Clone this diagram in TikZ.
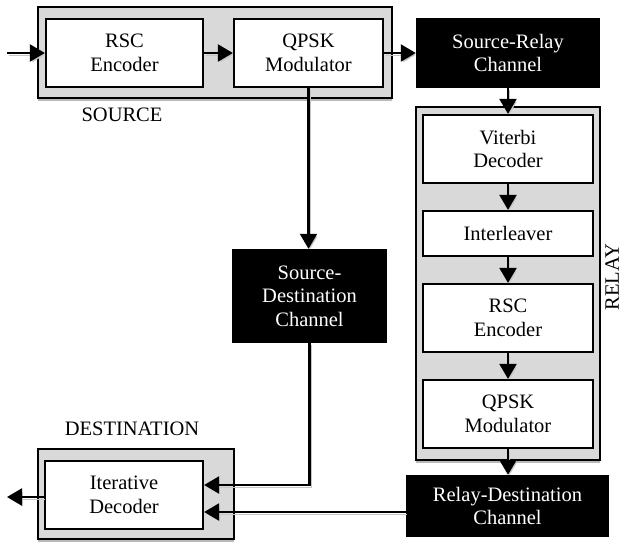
\documentclass[tikz,border=0pt]{standalone}
\usepackage{fontspec}
\setmainfont{Liberation Serif}
\usetikzlibrary{arrows.meta,shadows}
\begin{document}
\begin{tikzpicture}[x=1pt,y=-1pt,
  font=\fontsize{20.5pt}{23.5pt}\selectfont,
  group/.style={draw, line width=2.4pt, fill=black!15, inner sep=0pt,
    drop shadow={shadow xshift=0pt, shadow yshift=-3pt, fill=gray!55, opacity=1}},
  blk/.style={draw, line width=2.2pt, fill=white, align=center, inner sep=0pt},
  chan/.style={fill=black, text=white, align=center, inner sep=0pt},
  arr/.style={line width=2.2pt, -{Triangle[length=15pt,width=17pt]},
    preaction={draw=gray!45, transform canvas={shift={(1.5pt,-2pt)}}}},
  lbl/.style={inner sep=0pt}]
\useasboundingbox (0,0) rectangle (623,546);

% containers
\node[group, minimum width=354pt, minimum height=91pt] (src) at (215,52.5) {};
\node[group, minimum width=184pt, minimum height=353pt] (rly) at (508,283.5) {};
\node[group, minimum width=196pt, minimum height=90pt] (dst) at (136,494) {};

% source blocks
\node[blk, minimum width=157pt, minimum height=68pt] (rsc1) at (124.5,53) {RSC\\Encoder};
\node[blk, minimum width=149pt, minimum height=68pt] (qpsk1) at (308.5,53) {QPSK\\Modulator};

% relay blocks
\node[blk, minimum width=170pt, minimum height=68pt] (vit) at (508,149) {Viterbi\\Decoder};
\node[blk, minimum width=170pt, minimum height=45pt] (intl) at (508,233.5) {Interleaver};
\node[blk, minimum width=170pt, minimum height=68pt] (rsc2) at (508,318) {RSC\\Encoder};
\node[blk, minimum width=170pt, minimum height=68pt] (qpsk2) at (508,414) {QPSK\\Modulator};

% destination block
\node[blk, minimum width=158pt, minimum height=68pt] (iter) at (124,495) {Iterative\\Decoder};

% channels
\node[chan, minimum width=184pt, minimum height=70pt] (srch) at (508,53) {Source-Relay\\Channel};
\node[chan, minimum width=155pt, minimum height=94pt] (sdch) at (309.5,296) {Source-\\Destination\\Channel};
\node[chan, minimum width=203pt, minimum height=62pt] (rdch) at (507.5,506) {Relay-Destination\\Channel};

% labels
\node[lbl] (srclbl) at (122,115) {SOURCE};
\node[lbl] (dstlbl) at (132,429) {DESTINATION};
\node[lbl, rotate=90] (rlylbl) at (612,277) {RELAY};

% connectors
\coordinate (in) at (7,53);
\coordinate (out) at (7,497);
\coordinate (i1) at ([yshift=10pt]iter.east);
\coordinate (i2) at ([yshift=-17pt]iter.east);

\draw[arr] (in) -- (rsc1.west);
\draw[arr] (rsc1) -- (qpsk1);
\draw[arr] (qpsk1) -- (srch);
\draw[arr] (srch) -- (vit);
\draw[arr] (vit) -- (intl);
\draw[arr] (intl) -- (rsc2);
\draw[arr] (rsc2) -- (qpsk2);
\draw[arr] (qpsk2.south) -- (qpsk2.south |- rdch.north);
\draw[arr] (qpsk1.south) -- (qpsk1.south |- sdch.north);
\draw[arr] (sdch.south) |- (i1);
\draw[arr] (rdch.west |- i2) -- (i2);
\draw[arr] (iter.west |- out) -- (out);
\end{tikzpicture}
\end{document}
